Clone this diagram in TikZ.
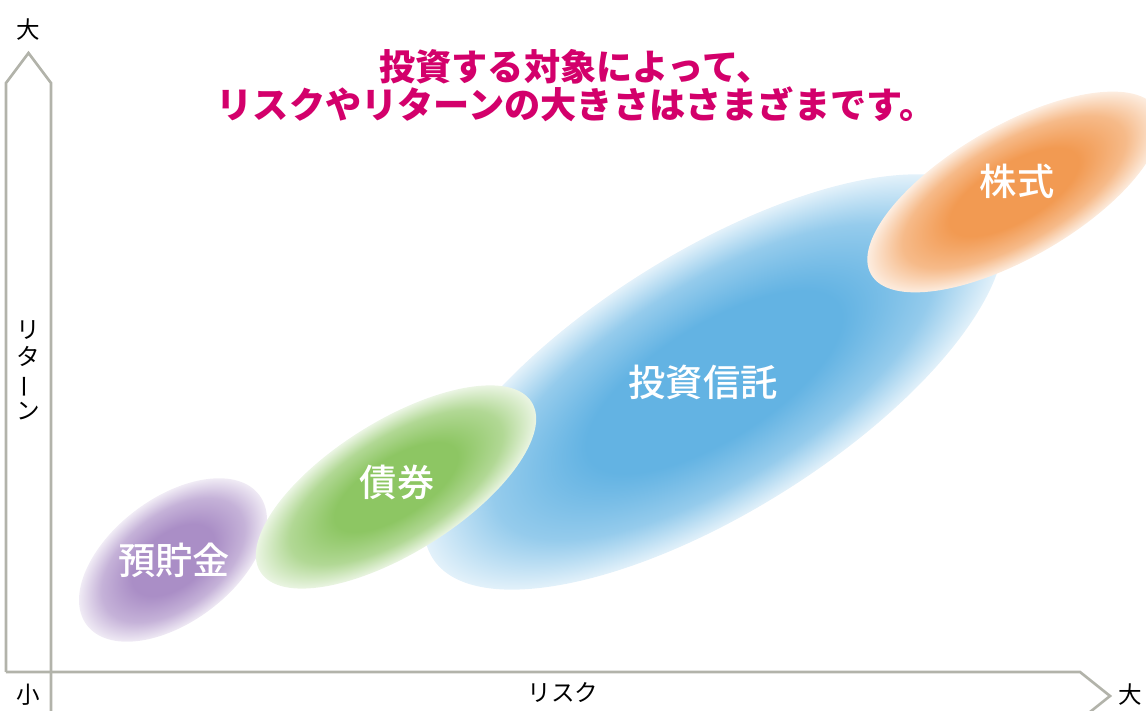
\documentclass[tikz,border=0pt]{standalone}
\usepackage{fontspec}
\usepackage{graphicx}
\setmainfont{Noto Sans CJK JP}
\newfontfamily\medfont{Noto Sans CJK JP Medium}
\definecolor{titlepink}{HTML}{D3006B}
\definecolor{axisgray}{HTML}{B2B3AA}
\definecolor{cpurple}{HTML}{AA8EC6}
\definecolor{cgreen}{HTML}{8DC663}
\definecolor{cblue}{HTML}{63B3E3}
\definecolor{corange}{HTML}{F29A52}
\pgfdeclareradialshading{shpurple}{\pgfpoint{0bp}{0bp}}{color(0bp)=(cpurple); color(11bp)=(cpurple); color(19bp)=(cpurple!68); color(25bp)=(cpurple!18); color(50bp)=(cpurple!18)}
\pgfdeclareradialshading{shgreen}{\pgfpoint{0bp}{0bp}}{color(0bp)=(cgreen); color(11bp)=(cgreen); color(19bp)=(cgreen!68); color(25bp)=(cgreen!18); color(50bp)=(cgreen!18)}
\pgfdeclareradialshading{shblue}{\pgfpoint{0bp}{0bp}}{color(0bp)=(cblue); color(11bp)=(cblue); color(19bp)=(cblue!68); color(25bp)=(cblue!18); color(50bp)=(cblue!18)}
\pgfdeclareradialshading{shorange}{\pgfpoint{0bp}{0bp}}{color(0bp)=(corange); color(11bp)=(corange); color(19bp)=(corange!68); color(25bp)=(corange!18); color(50bp)=(corange!18)}
\begin{document}
\begin{tikzpicture}
\useasboundingbox (0,0) rectangle (11.46,-7.11);
\clip (0,0) rectangle (11.46,-7.11);

\shade[shading=shblue, transform canvas={shift={(7.14,-3.82)}, rotate=32}] (0,0) ellipse (3.32 and 1.30);
\shade[shading=shpurple, transform canvas={shift={(1.73,-5.60)}, rotate=37}] (0,0) ellipse (1.08 and 0.62);
\shade[shading=shgreen, transform canvas={shift={(3.96,-4.87)}, rotate=32}] (0,0) ellipse (1.60 and 0.66);
\shade[shading=shorange, transform canvas={shift={(10.14,-1.92)}, rotate=30}] (0,0) ellipse (1.65 and 0.66);

\node[coordinate] (v1) at (0.06,-6.72) {};
\node[coordinate] (v2) at (0.06,-0.83) {};
\node[coordinate] (v3) at (0.285,-0.53) {};
\node[coordinate] (v4) at (0.51,-0.83) {};
\node[coordinate] (v5) at (0.51,-7.20) {};
\node[coordinate] (v6) at (10.80,-6.72) {};
\node[coordinate] (v7) at (11.10,-6.96) {};
\node[coordinate] (v8) at (10.80,-7.20) {};

\draw [axisgray, line width=0.75pt] (v1)--(v2)--(v3)--(v4)--(v5);
\draw [axisgray, line width=0.75pt] (v1)--(v6)--(v7)--(v8);

\node (v9) at (0.28,-0.30) {\fontsize{6.7pt}{7.7pt}\selectfont 大};
\node (v10) at (0.28,-6.95) {\fontsize{6.7pt}{7.7pt}\selectfont 小};
\node (v11) at (5.63,-6.93) {\fontsize{6.7pt}{7.7pt}\selectfont リスク};
\node (v12) at (11.30,-6.95) {\fontsize{6.7pt}{7.7pt}\selectfont 大};
\node[align=center, font=\fontsize{6.7pt}{7.7pt}\selectfont] (v13) at (0.28,-3.70) {リ\\タ\\\rotatebox[origin=c]{90}{ー}\\ン};

\node[align=center, text=titlepink, font=\fontsize{10.3pt}{10.6pt}\selectfont\bfseries] (v14) at (5.76,-0.855) {投資する対象によって、\\リスクやリターンの大きさはさまざまです。};

\node[text=white, font=\fontsize{10.6pt}{12pt}\selectfont\medfont] (v15) at (1.74,-5.60) {預貯金};
\node[text=white, font=\fontsize{10.6pt}{12pt}\selectfont\medfont] (v16) at (3.97,-4.82) {債券};
\node[text=white, font=\fontsize{10.6pt}{12pt}\selectfont\medfont] (v17) at (7.03,-3.82) {投資信託};
\node[text=white, font=\fontsize{10.6pt}{12pt}\selectfont\medfont] (v18) at (10.17,-1.81) {株式};

\end{tikzpicture}
\end{document}
